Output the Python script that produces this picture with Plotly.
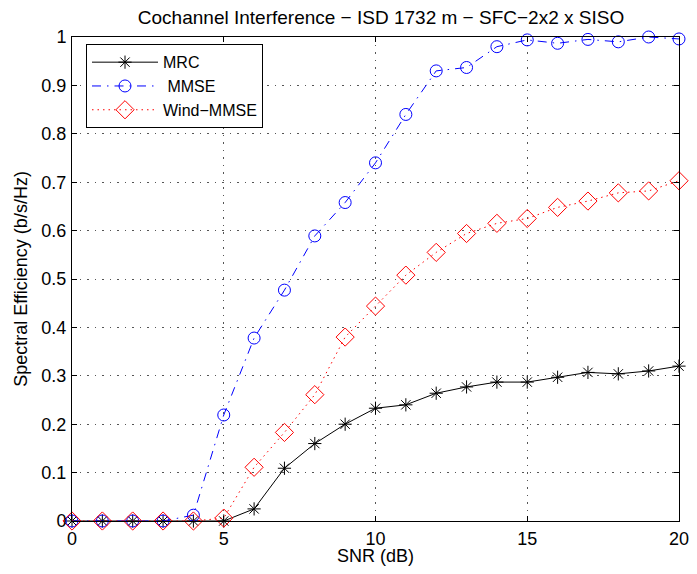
import plotly.graph_objects as go

snr = list(range(0, 21))
mrc = [0, 0, 0, 0, 0, 0, 0.025, 0.109, 0.160, 0.200, 0.233, 0.240, 0.264, 0.277, 0.287,
       0.287, 0.297, 0.307, 0.304, 0.310, 0.320]
mmse = [0, 0, 0, 0, 0.012, 0.219, 0.378, 0.477, 0.589, 0.658, 0.740, 0.840, 0.930, 0.937,
        0.980, 0.994, 0.987, 0.995, 0.990, 1.0, 0.996]
wind = [0, 0, 0, 0, 0, 0.006, 0.111, 0.183, 0.261, 0.380, 0.444, 0.508, 0.555, 0.594,
        0.615, 0.625, 0.648, 0.661, 0.678, 0.682, 0.703]

title = "Cochannel Interference \u2212 ISD 1732 m \u2212 SFC\u22122x2 x SISO"
xlabel = "SNR (dB)"
ylabel = "Spectral Efficiency (b/s/Hz)"
names = ["MRC", " MMSE", "Wind\u2212MMSE"]

font = "Liberation Sans, Arial, Helvetica, sans-serif"
fs = 18

# page body has an 8px margin; keep the figure inside the visible window
W, H = 681, 558
L, R = 64, 10

fig = go.Figure()
fig.add_trace(go.Scatter(x=snr, y=mrc, name=names[0], mode="lines+markers",
                         line=dict(color="black", width=1, dash="solid"),
                         marker=dict(symbol="asterisk-open", size=11,
                                     line=dict(color="black", width=1)),
                         cliponaxis=False))
fig.add_trace(go.Scatter(x=snr, y=mmse, name=names[1], mode="lines+markers",
                         line=dict(color="blue", width=1, dash="9px,6px,1.5px,6px"),
                         marker=dict(symbol="circle-open", size=12, color="blue",
                                     line=dict(color="blue", width=1)),
                         cliponaxis=False))
fig.add_trace(go.Scatter(x=snr, y=wind, name=names[2], mode="lines+markers",
                         line=dict(color="red", width=1, dash="1.5px,4px"),
                         marker=dict(symbol="diamond-open", size=14, color="red",
                                     line=dict(color="red", width=1)),
                         cliponaxis=False))

axis_common = dict(showline=True, linecolor="black", linewidth=1, mirror="allticks",
                   ticks="inside", ticklen=5, tickcolor="black",
                   showgrid=True, gridcolor="#555555", griddash="1.5px,6px", gridwidth=1,
                   zeroline=False, ticklabeloverflow="allow",
                   tickfont=dict(size=fs, color="black", family=font))

fig.update_xaxes(range=[0, 20], tickmode="array", tickvals=[0, 5, 10, 15, 20],
                 ticklabelstandoff=1, automargin=True,
                 title=dict(text=xlabel, font=dict(size=fs, color="black", family=font), standoff=4),
                 **axis_common)
fig.update_yaxes(range=[0, 1], tickmode="array", tickvals=[i / 10 for i in range(11)],
                 ticktext=["0", "0.1", "0.2", "0.3", "0.4", "0.5", "0.6", "0.7", "0.8", "0.9", "1"],
                 ticklabelstandoff=1, automargin=False,
                 title=dict(text=ylabel, font=dict(size=fs, color="black", family=font), standoff=9),
                 **axis_common)

fig.update_layout(
    width=W, height=H,
    margin=dict(l=L, r=R, t=29, b=45, autoexpand=False),
    paper_bgcolor="white", plot_bgcolor="white",
    font=dict(family=font, size=fs, color="black"),
    title=dict(text=title, x=373 / W, xanchor="center", y=1 - 2.5 / H, yanchor="top",
               pad=dict(t=0, b=0, l=0, r=0),
               font=dict(size=19, color="black", family=font)),
    legend=dict(x=14 / (W - L - R), y=0.985, xanchor="left", yanchor="top",
                bordercolor="black", borderwidth=1, bgcolor="white",
                font=dict(size=16, color="black", family=font),
                tracegroupgap=0, itemwidth=66),
    showlegend=True,
)

fig.write_html("out.html")
